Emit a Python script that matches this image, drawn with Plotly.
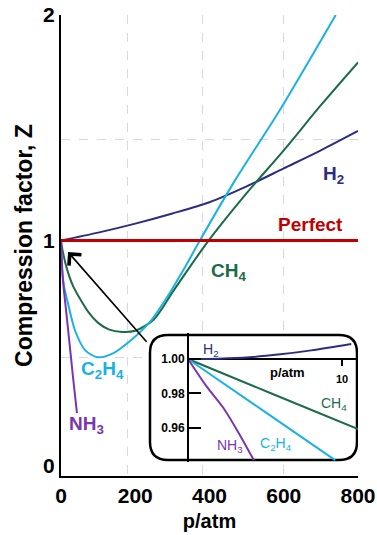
import plotly.graph_objects as go

# ---------------- data (main chart) ----------------
P_PERFECT = [0, 800]
Z_PERFECT = [1.0, 1.0]

P_H2 = [0, 100, 200, 300, 400, 500, 600, 700, 800]
Z_H2 = [1.0, 1.035, 1.075, 1.12, 1.17, 1.24, 1.32, 1.40, 1.486]

P_CH4 = [0, 5, 15, 32, 50, 75, 100, 130, 165, 200, 250, 300, 350, 400, 500, 600, 700, 800]
Z_CH4 = [1.0, 0.95, 0.88, 0.80, 0.745, 0.68, 0.635, 0.605, 0.595, 0.60, 0.65, 0.77, 0.89, 1.005, 1.21, 1.40, 1.60, 1.79]

P_C2H4 = [0, 2, 8, 19, 38, 65, 97, 140, 190, 240, 290, 330, 374, 470, 590, 740]
Z_C2H4 = [1.0, 0.89, 0.80, 0.72, 0.60, 0.514, 0.483, 0.50, 0.56, 0.64, 0.76, 0.87, 1.0, 1.27, 1.58, 2.0]

P_NH3 = [0, 5, 13, 22, 32, 43]
Z_NH3 = [1.0, 0.83, 0.70, 0.56, 0.40, 0.235]

X_TICKS = [0, 200, 400, 600, 800]
X_TICKTEXT = ["0", "200", "400", "600", "800"]
Y_TICKS = [0, 1, 2]
Y_TICKTEXT = ["0", "1", "2"]

# ---------------- data (inset, low pressure) ----------------
IP_H2 = [0, 2, 4, 6, 8, 10.6]
IZ_H2 = [1.0, 1.0002, 1.0010, 1.0027, 1.0050, 1.0087]

IP_CH4 = [0, 5.5, 11.04]
IZ_CH4 = [1.0, 0.9797, 0.9594]

IP_C2H4 = [0, 5, 9.55]
IZ_C2H4 = [1.0, 0.9693, 0.9414]

IP_NH3 = [0, 1.23, 2.27, 3.3, 4.27]
IZ_NH3 = [1.0, 0.9838, 0.972, 0.957, 0.9414]

INSET_X_TICKS = [10]
INSET_Y_TICKS = [0.96, 0.98, 1.00]

# ---------------- colours ----------------
C_H2 = "#2b2d84"
C_PERF = "#c00000"
C_CH4 = "#1b6b48"
C_C2H4 = "#19b2e6"
C_NH3 = "#7a35b0"
GRID = "#d6d6f0"
FONT = "Liberation Sans, Arial, sans-serif"

fig = go.Figure()

def line(x, y, color, width=2, axes=("x", "y")):
    fig.add_trace(go.Scatter(x=x, y=y, mode="lines", line=dict(color=color, width=width, shape="spline", smoothing=0.8),
                             xaxis=axes[0], yaxis=axes[1], hoverinfo="skip"))

line(P_H2, Z_H2, C_H2)
line(P_CH4, Z_CH4, C_CH4)
line(P_C2H4, Z_C2H4, C_C2H4)
line(P_NH3, Z_NH3, C_NH3)
line(P_PERFECT, Z_PERFECT, C_PERF, width=3)

line(IP_H2, IZ_H2, C_H2, axes=("x2", "y2"))
line(IP_CH4, IZ_CH4, C_CH4, axes=("x2", "y2"))
line(IP_C2H4, IZ_C2H4, C_C2H4, axes=("x2", "y2"))
line(IP_NH3, IZ_NH3, C_NH3, axes=("x2", "y2"))

# inset box (rounded) in inset data coordinates
x0, x1, y0, y1 = -2.468, 10.974, 0.94145, 1.01391
rx, ry = 1.17, 0.0104
box = (f"M {x0+rx},{y1} L {x1-rx},{y1} Q {x1},{y1} {x1},{y1-ry} L {x1},{y0+ry} "
       f"Q {x1},{y0} {x1-rx},{y0} L {x0+rx},{y0} Q {x0},{y0} {x0},{y0+ry} "
       f"L {x0},{y1-ry} Q {x0},{y1} {x0+rx},{y1} Z")
fig.add_shape(type="path", path=box, xref="x2", yref="y2", layer="below",
              line=dict(color="black", width=2.5), fillcolor="white")
# inset horizontal axis at Z = 1.00
fig.add_shape(type="line", xref="x2", yref="y2", x0=0, x1=11.04, y0=1.0, y1=1.0,
              layer="below", line=dict(color="black", width=2))

bold = dict(family=FONT, weight="bold")

def label(text, x, y, color, size, weight="bold", axes=("x", "y")):
    fig.add_annotation(text=text, x=x, y=y, xref=axes[0], yref=axes[1], showarrow=False,
                       font=dict(family=FONT, size=size, color=color, weight=weight))

label("H<sub>2</sub>", 733, 1.29, C_H2, 19)
label("Perfect", 671, 1.069, C_PERF, 19)
label("CH<sub>4</sub>", 450, 0.86, C_CH4, 19)
label("C<sub>2</sub>H<sub>4</sub>", 113, 0.426, C_C2H4, 19)
label("NH<sub>3</sub>", 70, 0.18, C_NH3, 19)

label("H<sub>2</sub>", 1.49, 1.0052, C_H2, 14, "normal", ("x2", "y2"))
label("CH<sub>4</sub>", 9.48, 0.9739, C_CH4, 14, "normal", ("x2", "y2"))
label("C<sub>2</sub>H<sub>4</sub>", 5.71, 0.9507, C_C2H4, 14, "normal", ("x2", "y2"))
label("NH<sub>3</sub>", 2.73, 0.9496, C_NH3, 14, "normal", ("x2", "y2"))
label("p/atm", 6.43, 0.9919, "black", 13, "bold", ("x2", "y2"))

# arrow from inset to origin region
fig.add_annotation(text="", x=19, y=0.949, ax=234, ay=0.545, xref="x", yref="y", axref="x", ayref="y",
                   showarrow=True, arrowhead=4, arrowsize=2, arrowwidth=1.6, arrowcolor="black")

fig.update_layout(
    width=377, height=535,
    margin=dict(l=61, r=19, t=15, b=59, autoexpand=False),
    plot_bgcolor="white", paper_bgcolor="white", showlegend=False,
    font=dict(family=FONT, color="black"),
    xaxis=dict(domain=[0, 1], range=[0, 800], tickmode="array", tickvals=X_TICKS, ticktext=X_TICKTEXT,
               showline=True, linecolor="black", linewidth=2, ticks="", showgrid=False, zeroline=False,
               automargin=False, ticklabeloverflow="allow", tickfont=dict(size=21, **bold),
               minor=dict(tickmode="array", tickvals=[180, 380, 600, 800], showgrid=True,
                          gridcolor=GRID, griddash="dash", gridwidth=1, ticks=""),
               title=dict(text="p/atm", font=dict(size=20, **bold), standoff=8)),
    yaxis=dict(domain=[0, 1], range=[-0.044, 2.0], tickmode="array", tickvals=Y_TICKS, ticktext=Y_TICKTEXT,
               showline=True, linecolor="black", linewidth=2, ticks="", showgrid=False, zeroline=False,
               automargin=False, ticklabeloverflow="allow", tickfont=dict(size=21, **bold),
               minor=dict(tickmode="array", tickvals=[0.48, 1.45, 2.0], showgrid=True,
                          gridcolor=GRID, griddash="dash", gridwidth=1, ticks=""),
               title=dict(text="Compression factor, Z", font=dict(size=23, **bold), standoff=4)),
    xaxis2=dict(domain=[0.2929, 1.0], range=[-2.597, 11.039], anchor="free", position=0.2538,
                tickmode="array", tickvals=INSET_X_TICKS, ticks="outside", ticklen=6, tickwidth=2,
                tickcolor="black", showline=False, showgrid=False, zeroline=False, automargin=False,
                ticklabelstandoff=4, tickfont=dict(size=11, **bold)),
    yaxis2=dict(domain=[0.0304, 0.3102], range=[0.94029, 1.01507], anchor="free", position=0.4276,
                tickmode="array", tickvals=INSET_Y_TICKS, tickformat=".2f", ticks="inside", ticklen=12,
                tickwidth=2, tickcolor="black", showline=True, linecolor="black", linewidth=2,
                showgrid=False, zeroline=False, automargin=False, tickfont=dict(size=12, **bold)),
)

# remove the page's default 8px body margin so the 377x535 figure fills the window exactly
fig.write_html("out.html", config={"displayModeBar": False},
               post_script="document.body.style.margin='0px';")
